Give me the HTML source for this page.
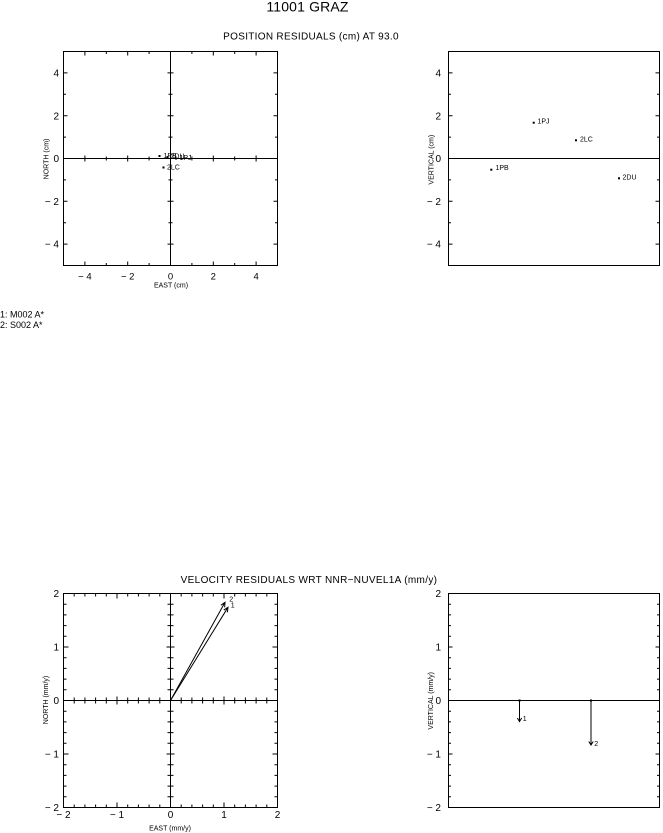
<!DOCTYPE html>
<html><head><meta charset="utf-8"><style>
html,body{margin:0;padding:0;background:#fff;}
svg{display:block;}
text{font-family:"Liberation Sans",sans-serif;fill:#000;}
</style></head><body>
<svg width="663" height="833" viewBox="0 0 663 833" xmlns="http://www.w3.org/2000/svg">
<rect width="663" height="833" fill="#fff"/>
<!-- Titles -->
<text x="307.5" y="11.5" font-size="14" text-anchor="middle" letter-spacing="0.15">11001 GRAZ</text>
<text x="311" y="39.5" font-size="10" text-anchor="middle" letter-spacing="0.3">POSITION RESIDUALS (cm) AT 93.0</text>
<text x="309" y="583" font-size="10" text-anchor="middle" letter-spacing="0.33">VELOCITY RESIDUALS WRT NNR−NUVEL1A (mm/y)</text>

<g fill="none" stroke="#000" stroke-width="1">
<!-- ===== Top-left plot ===== -->
<rect x="63.5" y="51.5" width="214" height="214"/>
<path d="M63.5 158.5H277.5M170.5 51.5V265.5"/>
<path d="M84.9 51.5v4M106.3 51.5v2.5M127.7 51.5v4M149.1 51.5v2.5M191.9 51.5v2.5M213.3 51.5v4M234.7 51.5v2.5M256.1 51.5v4
M84.9 265.5v-4M106.3 265.5v-2.5M127.7 265.5v-4M149.1 265.5v-2.5M191.9 265.5v-2.5M213.3 265.5v-4M234.7 265.5v-2.5M256.1 265.5v-4
M63.5 72.9h4M63.5 94.3h2.5M63.5 115.7h4M63.5 137.1h2.5M63.5 179.9h2.5M63.5 201.3h4M63.5 222.7h2.5M63.5 244.1h4
M277.5 72.9h-4M277.5 94.3h-2.5M277.5 115.7h-4M277.5 137.1h-2.5M277.5 179.9h-2.5M277.5 201.3h-4M277.5 222.7h-2.5M277.5 244.1h-4
M84.9 155.5v6M106.3 156.5v4M127.7 155.5v6M149.1 156.5v4M191.9 156.5v4M213.3 155.5v6M234.7 156.5v4M256.1 155.5v6
M167.5 72.9h6M168.5 94.3h4M167.5 115.7h6M168.5 137.1h4M168.5 179.9h4M167.5 201.3h6M168.5 222.7h4M167.5 244.1h6"/>

<!-- ===== Top-right plot ===== -->
<rect x="448.5" y="51.5" width="211" height="214"/>
<path d="M448.5 158.5H659.5"/>
<path d="M448.5 72.9h4M448.5 94.3h2.5M448.5 115.7h4M448.5 137.1h2.5M448.5 179.9h2.5M448.5 201.3h4M448.5 222.7h2.5M448.5 244.1h4
M659.5 72.9h-4M659.5 94.3h-2.5M659.5 115.7h-4M659.5 137.1h-2.5M659.5 179.9h-2.5M659.5 201.3h-4M659.5 222.7h-2.5M659.5 244.1h-4"/>

<!-- ===== Bottom-left plot ===== -->
<rect x="63.5" y="593.5" width="214" height="214"/>
<path d="M63.5 700.5H277.5M170.5 593.5V807.5"/>
<!-- top edge -->
<path d="M74.2 593.5v3M84.9 593.5v3M95.6 593.5v3M106.3 593.5v3M117 593.5v5M127.7 593.5v3M138.4 593.5v3M149.1 593.5v3M159.8 593.5v3M181.2 593.5v3M191.9 593.5v3M202.6 593.5v3M213.3 593.5v3M224 593.5v5M234.7 593.5v3M245.4 593.5v3M256.1 593.5v3M266.8 593.5v3"/>
<!-- bottom edge -->
<path d="M74.2 807.5v-3M84.9 807.5v-3M95.6 807.5v-3M106.3 807.5v-3M117 807.5v-5M127.7 807.5v-3M138.4 807.5v-3M149.1 807.5v-3M159.8 807.5v-3M181.2 807.5v-3M191.9 807.5v-3M202.6 807.5v-3M213.3 807.5v-3M224 807.5v-5M234.7 807.5v-3M245.4 807.5v-3M256.1 807.5v-3M266.8 807.5v-3"/>
<!-- left edge -->
<path d="M63.5 604.2h3M63.5 614.9h3M63.5 625.6h3M63.5 636.3h3M63.5 647h5M63.5 657.7h3M63.5 668.4h3M63.5 679.1h3M63.5 689.8h3M63.5 711.2h3M63.5 721.9h3M63.5 732.6h3M63.5 743.3h3M63.5 754h5M63.5 764.7h3M63.5 775.4h3M63.5 786.1h3M63.5 796.8h3"/>
<!-- right edge -->
<path d="M277.5 604.2h-3M277.5 614.9h-3M277.5 625.6h-3M277.5 636.3h-3M277.5 647h-5M277.5 657.7h-3M277.5 668.4h-3M277.5 679.1h-3M277.5 689.8h-3M277.5 711.2h-3M277.5 721.9h-3M277.5 732.6h-3M277.5 743.3h-3M277.5 754h-5M277.5 764.7h-3M277.5 775.4h-3M277.5 786.1h-3M277.5 796.8h-3"/>
<!-- zero axes ticks -->
<path d="M74.2 697.5v6M84.9 697.5v6M95.6 697.5v6M106.3 697.5v6M117 696.5v8M127.7 697.5v6M138.4 697.5v6M149.1 697.5v6M159.8 697.5v6M181.2 697.5v6M191.9 697.5v6M202.6 697.5v6M213.3 697.5v6M224 696.5v8M234.7 697.5v6M245.4 697.5v6M256.1 697.5v6M266.8 697.5v6"/>
<path d="M167.5 604.2h6M167.5 614.9h6M167.5 625.6h6M167.5 636.3h6M166.5 647h8M167.5 657.7h6M167.5 668.4h6M167.5 679.1h6M167.5 689.8h6M167.5 711.2h6M167.5 721.9h6M167.5 732.6h6M167.5 743.3h6M166.5 754h8M167.5 764.7h6M167.5 775.4h6M167.5 786.1h6M167.5 796.8h6"/>

<!-- ===== Bottom-right plot ===== -->
<rect x="448.5" y="593.5" width="211" height="214"/>
<path d="M448.5 700.5H659.5"/>
<path d="M448.5 604.2h2.5M448.5 614.9h2.5M448.5 625.6h2.5M448.5 636.3h2.5M448.5 647h4M448.5 657.7h2.5M448.5 668.4h2.5M448.5 679.1h2.5M448.5 689.8h2.5M448.5 711.2h2.5M448.5 721.9h2.5M448.5 732.6h2.5M448.5 743.3h2.5M448.5 754h4M448.5 764.7h2.5M448.5 775.4h2.5M448.5 786.1h2.5M448.5 796.8h2.5"/>
<path d="M659.5 604.2h-2.5M659.5 614.9h-2.5M659.5 625.6h-2.5M659.5 636.3h-2.5M659.5 647h-4M659.5 657.7h-2.5M659.5 668.4h-2.5M659.5 679.1h-2.5M659.5 689.8h-2.5M659.5 711.2h-2.5M659.5 721.9h-2.5M659.5 732.6h-2.5M659.5 743.3h-2.5M659.5 754h-4M659.5 764.7h-2.5M659.5 775.4h-2.5M659.5 786.1h-2.5M659.5 796.8h-2.5"/>

<!-- velocity arrows bottom-left -->
<path d="M170.5 700.5L225 602.3M221 605.2L225 602.3L224.65 607.3"/>
<path d="M170.5 700.5L228 607.3M223.8 610.05L228 607.3L227.4 612.3"/>
<!-- vertical arrows bottom-right -->
<path d="M519.5 700.5V721.5M517.3 718L519.5 721.5L521.7 718"/>
<path d="M591 700.5V745M588.8 741.5L591 745L593.2 741.5"/>
</g>

<!-- points -->
<g fill="#000">
<rect x="158.5" y="155" width="2" height="2"/>
<rect x="166.5" y="156" width="2" height="2"/>
<rect x="175" y="157.5" width="2" height="2"/>
<rect x="162.5" y="166.5" width="2" height="2"/>
<rect x="490.3" y="168.7" width="2" height="2"/>
<rect x="532.7" y="121.7" width="2" height="2"/>
<rect x="575" y="139.3" width="2" height="2"/>
<rect x="618" y="177.3" width="2" height="2"/>
<rect x="518.5" y="699.5" width="2" height="2"/>
<rect x="590" y="699.5" width="2" height="2"/>
</g>

<!-- point labels -->
<g font-size="7">
<text x="163.5" y="158">1PB</text>
<text x="170.5" y="158.5">2DU</text>
<text x="179.5" y="160">1PJ</text>
<text x="167" y="169.5">2LC</text>
<text x="495.5" y="170">1PB</text>
<text x="537.5" y="123.5">1PJ</text>
<text x="580" y="141.5">2LC</text>
<text x="622.5" y="179.5">2DU</text>
<text x="229.3" y="601.7">2</text>
<text x="230.7" y="607.5">1</text>
<text x="522.7" y="721">1</text>
<text x="594.3" y="746">2</text>
</g>

<!-- top-left tick labels -->
<g font-size="10" text-anchor="end">
<text x="59" y="76.5">4</text>
<text x="59" y="119.3">2</text>
<text x="59" y="162.1">0</text>
<text x="59" y="204.9">− 2</text>
<text x="59" y="247.7">− 4</text>
<text x="441" y="76.5">4</text>
<text x="441" y="119.3">2</text>
<text x="441" y="162.1">0</text>
<text x="441" y="204.9">− 2</text>
<text x="441" y="247.7">− 4</text>
<text x="59" y="597">2</text>
<text x="59" y="650.5">1</text>
<text x="59" y="704">0</text>
<text x="59" y="757.5">− 1</text>
<text x="59" y="811">− 2</text>
<text x="441" y="597">2</text>
<text x="441" y="650.5">1</text>
<text x="441" y="704">0</text>
<text x="441" y="757.5">− 1</text>
<text x="441" y="811">− 2</text>
</g>
<g font-size="9.5" text-anchor="middle">
<text x="84.9" y="279.5">− 4</text>
<text x="127.7" y="279.5">− 2</text>
<text x="170.5" y="279.5">0</text>
<text x="213.3" y="279.5">2</text>
<text x="256.1" y="279.5">4</text>
</g>
<g font-size="10" text-anchor="middle">
<text x="63.5" y="818">− 2</text>
<text x="117" y="818">− 1</text>
<text x="170.5" y="818">0</text>
<text x="224" y="818">1</text>
<text x="277.5" y="818">2</text>
</g>

<!-- axis titles -->
<g font-size="7" text-anchor="middle">
<text x="171" y="287.5">EAST (cm)</text>
<text x="170" y="830.5">EAST (mm/y)</text>
<text transform="translate(48.3,159) rotate(-90)">NORTH (cm)</text>
<text transform="translate(433.7,159.7) rotate(-90)">VERTICAL (cm)</text>
<text transform="translate(48,700) rotate(-90)">NORTH (mm/y)</text>
<text transform="translate(433,700.8) rotate(-90)">VERTICAL (mm/y)</text>
</g>

<!-- legend -->
<g font-size="9">
<text x="0" y="317.5">1: M002 A*</text>
<text x="0" y="328">2: S002 A*</text>
</g>
</svg>
</body></html>
